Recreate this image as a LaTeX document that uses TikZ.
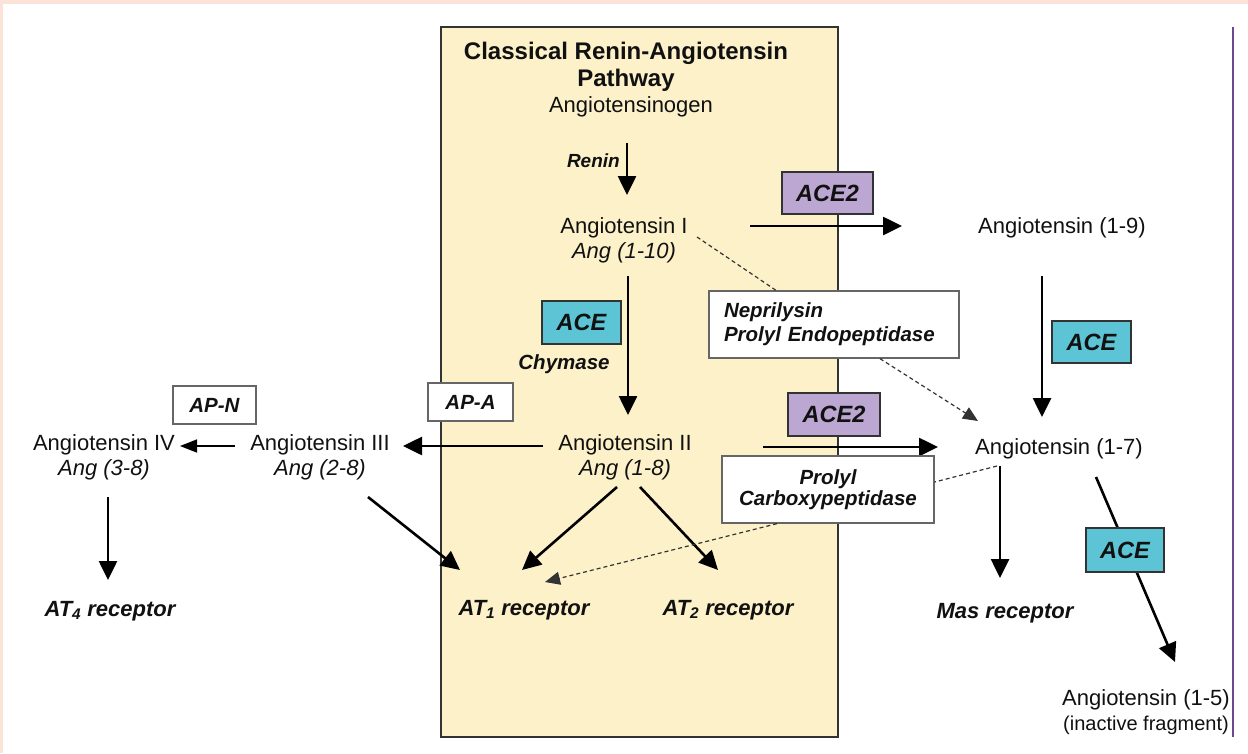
\documentclass[tikz,border=0pt]{standalone}
\usepackage{fontspec}
\setmainfont{Liberation Sans}
\usetikzlibrary{arrows.meta,calc}
\definecolor{pinkbg}{HTML}{FCE3D8}
\definecolor{yellowbg}{HTML}{FCF1C9}
\definecolor{boxline}{HTML}{333333}
\definecolor{acecyan}{HTML}{5CC4D5}
\definecolor{acepurple}{HTML}{BCA7D2}
\definecolor{sideline}{HTML}{6A4A8C}
\definecolor{txtcol}{HTML}{111111}
\begin{document}
\begin{tikzpicture}[x=1pt,y=-1pt,
  txt/.style={font=\fontsize{22}{25}\selectfont, inner sep=0pt, align=center, text=txtcol},
  lab/.style={font=\fontsize{22}{25}\selectfont\bfseries\itshape, inner sep=0pt, text=txtcol},
  enzbox/.style={draw=boxline, line width=1.3pt, inner sep=0pt, align=center, text=txtcol,
     font=\fontsize{23.5}{26}\selectfont\bfseries\itshape},
  wbox/.style={draw=black!60, fill=white, line width=1.3pt, inner sep=0pt, text=txtcol,
     font=\fontsize{20.5}{24}\selectfont\bfseries\itshape},
  arr/.style={line width=2.6pt, draw=black, -{Triangle[length=19pt,width=18pt]}},
  thinarr/.style={line width=1.7pt, draw=black, -{Triangle[length=17pt,width=13pt]}},
  dashline/.style={line width=1.2pt, draw=black!80, dash pattern=on 4pt off 3pt},
  dasharr/.style={dashline, -{Triangle[length=15pt,width=13pt]}}
]
\useasboundingbox (0,0) rectangle (1248,753);
\fill[white] (0,0) rectangle (1248,753);
\fill[pinkbg] (0,0) rectangle (1248,4);
\fill[pinkbg] (0,0) rectangle (3,753);

% classical pathway panel
\draw[fill=yellowbg, draw=boxline, line width=2pt] (441,27) rectangle (838,737);
\draw[sideline, line width=1.5pt] (1233,27) -- (1233,737);

% texts
\node[txt, font=\fontsize{24}{27}\selectfont\bfseries] (title) at (626,67) {Classical Renin-Angiotensin\\Pathway};
\node[txt] (angen) at (631,107) {Angiotensinogen};
\node[txt] (angI) at (624,240) {Angiotensin I\\\textit{Ang (1-10)}};
\node[txt] (angII) at (625,457) {Angiotensin II\\\textit{Ang (1-8)}};
\node[txt] (angIII) at (320,457) {Angiotensin III\\\textit{Ang (2-8)}};
\node[txt] (angIV) at (104,457) {Angiotensin IV\\\textit{Ang (3-8)}};
\node[txt] (ang19) at (1062,228) {Angiotensin (1-9)};
\node[txt] (ang17) at (1059,449) {Angiotensin (1-7)};
\node[txt] (ang15) at (1146,712) {Angiotensin (1-5)\\{\fontsize{20}{24}\selectfont (inactive fragment)}};
\node[lab] (at1) at (524,610) {AT\textsubscript{1} receptor};
\node[lab] (at2) at (728,610) {AT\textsubscript{2} receptor};
\node[lab] (at4) at (110,611) {AT\textsubscript{4} receptor};
\node[lab] (mas) at (1005,613) {Mas receptor};
\node[lab, font=\fontsize{19}{22}\selectfont\bfseries\itshape, anchor=east] (renin) at (620,161) {Renin};
\node[lab, font=\fontsize{20.5}{24}\selectfont\bfseries\itshape] (chym) at (564,364) {Chymase};

% solid arrows
\draw[arr] ($(angen)+(-4,36)$) -- ($(angI)+(3,-45)$);
\draw[arr] ($(angI)+(126,-14)$) -- ($(ang19)+(-160,-2)$);
\draw[arr] ($(angI)+(4,36)$) -- ($(angII)+(3,-42)$);
\draw[arr] ($(angII)+(138,-10)$) -- ($(ang17)+(-121,-2)$);
\draw[arr] ($(angII)+(-82,-11)$) -- ($(angIII)+(83,-11)$);
\draw[thinarr] ($(angIII)+(-85,-11)$) -- ($(angIV)+(76,-11)$);
\draw[arr] ($(angIV)+(4,40)$) -- ($(at4)+(-2,-31)$);
\draw[arr] ($(angIII)+(48,40)$) -- ($(at1)+(-64,-40)$);
\draw[arr] ($(angII)+(-8,30)$) -- ($(at1)+(-2,-40)$);
\draw[arr] ($(angII)+(15,30)$) -- ($(at2)+(-10,-40)$);
\draw[arr] ($(ang19)+(-20,48)$) -- ($(ang17)+(-17,-32)$);
\draw[arr] ($(ang17)+(-59,17)$) -- ($(mas)+(-5,-35)$);
\draw[arr] ($(ang17)+(37,28)$) -- ($(ang15)+(29,-50)$);

% enzyme boxes
\node[enzbox, fill=acecyan, minimum width=79pt, minimum height=43pt] (aceA) at (581.5,322.5) {ACE};
\node[enzbox, fill=acecyan, minimum width=79pt, minimum height=42pt] (aceB) at (1091.5,342) {ACE};
\node[enzbox, fill=acecyan, minimum width=78pt, minimum height=44pt] (aceC) at (1125,550) {ACE};
\node[enzbox, fill=acepurple, minimum width=91pt, minimum height=42pt] (acetwoA) at (827.5,193) {ACE2};
\node[enzbox, fill=acepurple, minimum width=92pt, minimum height=43pt] (acetwoB) at (834,414.5) {ACE2};
\node[wbox, minimum width=85pt, minimum height=38pt] (apa) at (470.5,402) {AP-A};
\node[wbox, minimum width=83pt, minimum height=38pt] (apn) at (214.5,405) {AP-N};
\node[wbox, text width=220pt, inner xsep=15pt, minimum height=67pt, align=left] (nep) at (834,324.5) {Neprilysin\\Prolyl Endopeptidase};
\node[wbox, minimum width=212pt, minimum height=67pt, align=center, font=\fontsize{20.5}{21}\selectfont\bfseries\itshape] (pcp) at (828,489.5) {Prolyl\\Carboxypeptidase};

% dashed connectors
\draw[dashline] ($(angI)+(73,-3)$) -- ($(nep.north)+(-58,0)$);
\draw[dasharr] ($(nep.south)+(46,0)$) -- ($(ang17)+(-81,-28)$);
\draw[dashline] ($(ang17)+(-62,17)$) -- ($(pcp.east)+(0,-7.5)$);
\draw[dasharr] ($(pcp.south)+(-51,0)$) -- ($(at1)+(21,-28)$);
\end{tikzpicture}
\end{document}
